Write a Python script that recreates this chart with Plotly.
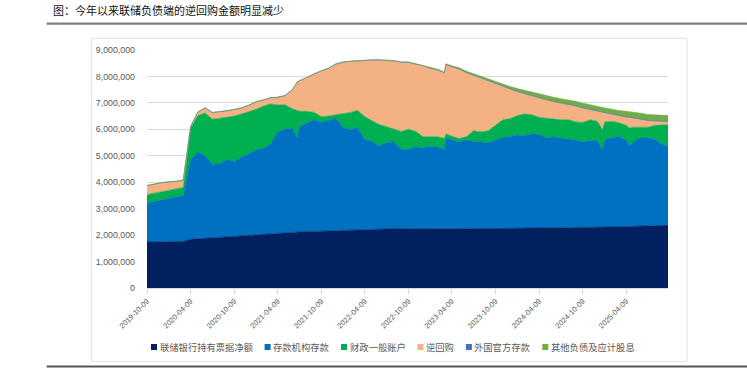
import plotly.graph_objects as go

# ---------------- data (百万美元) ----------------
dates = [
    "2019-10-09", "2019-11-09", "2019-12-09",
    "2020-01-09", "2020-02-09", "2020-03-09", "2020-04-09", "2020-05-09", "2020-06-09",
    "2020-07-09", "2020-08-09", "2020-09-09", "2020-10-09", "2020-11-09", "2020-12-09",
    "2021-01-09", "2021-02-09", "2021-03-09", "2021-04-09", "2021-05-09", "2021-06-09", "2021-06-30",
    "2021-07-09", "2021-08-09", "2021-09-09", "2021-10-09", "2021-11-09", "2021-12-09",
    "2022-01-09", "2022-02-09", "2022-03-09", "2022-04-09", "2022-05-09", "2022-06-09",
    "2022-07-09", "2022-08-09", "2022-09-09", "2022-10-09", "2022-11-09", "2022-12-09",
    "2023-01-09", "2023-02-09", "2023-03-09", "2023-03-15", "2023-04-09", "2023-05-09", "2023-06-09",
    "2023-07-09", "2023-08-09", "2023-09-09", "2023-10-09", "2023-11-09", "2023-12-09",
    "2024-01-09", "2024-02-09", "2024-03-09", "2024-04-09", "2024-05-09", "2024-06-09",
    "2024-07-09", "2024-08-09", "2024-09-09", "2024-10-09", "2024-11-09", "2024-12-09", "2024-12-31",
    "2025-01-09", "2025-02-09", "2025-03-09", "2025-04-09", "2025-04-23", "2025-05-09",
    "2025-06-09", "2025-07-09", "2025-08-09", "2025-09-09", "2025-10-01",
]

notes_net = [
    1740000, 1740000, 1750000,
    1750000, 1760000, 1760000, 1840000, 1860000, 1880000, 1900000, 1920000, 1940000, 1950000, 1970000, 1990000,
    2010000, 2030000, 2050000, 2070000, 2100000, 2120000, 2130000, 2130000, 2140000, 2140000, 2150000, 2160000, 2180000,
    2190000, 2200000, 2210000, 2220000, 2220000, 2220000, 2230000, 2230000, 2230000, 2240000, 2240000, 2240000,
    2230000, 2240000, 2240000, 2240000, 2250000, 2250000, 2250000, 2250000, 2250000, 2250000, 2250000, 2250000, 2260000,
    2260000, 2260000, 2260000, 2270000, 2270000, 2280000, 2280000, 2280000, 2290000, 2290000, 2300000, 2300000, 2300000,
    2300000, 2310000, 2320000, 2330000, 2330000, 2330000, 2350000, 2360000, 2360000, 2370000, 2370000,
]

reserves = [
    1470000, 1530000, 1580000,
    1630000, 1690000, 1740000, 3010000, 3290000, 3120000, 2780000, 2780000, 2910000, 2830000, 2980000, 3090000,
    3210000, 3250000, 3400000, 3830000, 3900000, 3930000, 3540000, 3970000, 4080000, 4220000, 4110000, 4180000, 4240000,
    3870000, 3780000, 3870000, 3400000, 3320000, 3160000, 3270000, 3290000, 3020000, 3010000, 3090000, 3060000,
    3120000, 3090000, 3010000, 3430000, 3350000, 3270000, 3350000, 3290000, 3270000, 3230000, 3350000, 3450000, 3470000,
    3530000, 3500000, 3570000, 3530000, 3410000, 3430000, 3380000, 3350000, 3310000, 3230000, 3280000, 3260000, 2930000,
    3320000, 3370000, 3410000, 3270000, 3050000, 3220000, 3320000, 3310000, 3260000, 3050000, 2980000,
]

tga = [
    320000, 310000, 300000,
    300000, 300000, 300000, 1200000, 1370000, 1620000, 1700000, 1720000, 1610000, 1720000, 1630000, 1580000,
    1540000, 1600000, 1510000, 1020000, 930000, 730000, 1030000, 580000, 460000, 280000, 220000, 160000, 130000,
    540000, 660000, 640000, 860000, 780000, 800000, 600000, 500000, 670000, 750000, 590000, 420000,
    380000, 390000, 400000, 160000, 140000, 130000, 120000, 410000, 380000, 470000, 550000, 660000, 670000,
    730000, 820000, 720000, 650000, 740000, 670000, 700000, 730000, 680000, 740000, 780000, 740000, 750000,
    660000, 620000, 520000, 550000, 670000, 530000, 410000, 410000, 530000, 750000, 820000,
]

reverse_repo = [
    330000, 340000, 340000,
    320000, 270000, 270000, 40000, 120000, 180000, 240000, 230000, 230000, 240000, 220000, 240000,
    270000, 220000, 220000, 280000, 330000, 700000, 1080000, 1140000, 1280000, 1440000, 1720000, 1800000, 1910000,
    1930000, 1920000, 1860000, 2120000, 2290000, 2430000, 2500000, 2560000, 2610000, 2530000, 2540000, 2680000,
    2570000, 2520000, 2480000, 2620000, 2620000, 2630000, 2420000, 2090000, 2030000, 1870000, 1570000, 1250000, 1120000,
    900000, 760000, 720000, 750000, 680000, 660000, 630000, 580000, 600000, 540000, 380000, 380000, 650000,
    330000, 250000, 250000, 310000, 400000, 340000, 300000, 250000, 160000, 130000, 120000,
]

foreign_official = [
    12000, 12000, 12000,
    12000, 12000, 12000, 12000, 12000, 12000, 12000, 12000, 12000, 12000, 12000, 12000,
    12000, 12000, 12000, 12000, 12000, 12000, 12000, 12000, 12000, 12000, 12000, 12000, 12000,
    12000, 12000, 12000, 12000, 12000, 12000, 12000, 12000, 12000, 6000, 6000, 6000,
    6000, 6000, 6000, 6000, 6000, 6000, 6000, 6000, 6000, 6000, 6000, 6000, 6000,
    6000, 6000, 6000, 6000, 6000, 6000, 6000, 6000, 6000, 6000, 6000, 6000, 6000,
    6000, 6000, 6000, 6000, 6000, 6000, 6000, 6000, 6000, 6000, 6000,
]

other_liab = [
    8000, 8000, 8000,
    8000, 8000, 8000, 8000, 8000, 8000, 8000, 8000, 8000, 8000, 8000, 8000,
    8000, 8000, 8000, 8000, 8000, 8000, 8000, 8000, 8000, 8000, 8000, 8000, 8000,
    8000, 8000, 8000, 8000, 8000, 8000, 8000, 8000, 8000, 14000, 14000, 14000,
    24000, 24000, 24000, 24000, 34000, 44000, 54000, 54000, 64000, 74000, 74000, 84000, 94000,
    114000, 124000, 134000, 144000, 154000, 164000, 164000, 174000, 174000, 184000, 194000, 194000, 194000,
    194000, 194000, 204000, 214000, 214000, 214000, 224000, 224000, 224000, 224000, 224000,
]

series_names = ["联储银行持有票据净额", "存款机构存款", "财政一般账户", "逆回购", "外国官方存款", "其他负债及应计股息"]
series_values = [notes_net, reserves, tga, reverse_repo, foreign_official, other_liab]
series_colors = ["#002060", "#0070C0", "#00B050", "#F4B183", "#4472C4", "#70AD47"]

x_tick_labels = ["2019-10-09", "2020-04-09", "2020-10-09", "2021-04-09", "2021-10-09", "2022-04-09",
                 "2022-10-09", "2023-04-09", "2023-10-09", "2024-04-09", "2024-10-09", "2025-04-09"]

title_text = "图：今年以来联储负债端的逆回购金额明显减少"

# ---------------- layout geometry (pixels) ----------------
W, H = 747, 372
PL, PR, PT, PB = 147, 79, 50, 84
plot_w = W - PL - PR
plot_h = H - PT - PB


def px(xp):
    return (xp - PL) / plot_w


def py(yp):
    return (H - PB - yp) / plot_h


fig = go.Figure()
for name, vals, col in zip(series_names, series_values, series_colors):
    fig.add_trace(go.Scatter(
        x=dates, y=vals, name=name, stackgroup="one", mode="lines",
        line=dict(width=0.6, color=col), fillcolor=col,
        showlegend=False, hoverinfo="skip",
    ))

shapes = [
    # title underline
    dict(type="line", xref="paper", yref="paper", x0=px(46.7), x1=px(747), y0=py(23.7), y1=py(23.7),
         line=dict(color="#7F7F7F", width=2.3)),
    # bottom rule
    dict(type="line", xref="paper", yref="paper", x0=px(46.7), x1=px(747), y0=py(366.5), y1=py(366.5),
         line=dict(color="#555555", width=2.2)),
    # chart frame
    dict(type="rect", xref="paper", yref="paper", x0=px(91.7), x1=px(687), y0=py(361.7), y1=py(38.3),
         line=dict(color="#D9D9D9", width=0.8), layer="below"),
]

annotations = []
lx = 151.0
for name, col in zip(series_names, series_colors):
    shapes.append(dict(type="rect", xref="paper", yref="paper",
                       x0=px(lx), x1=px(lx + 6), y0=py(350), y1=py(344),
                       fillcolor=col, line=dict(width=0)))
    annotations.append(dict(text=name, xref="paper", yref="paper", x=px(lx + 7.5), y=py(347.2),
                            xanchor="left", yanchor="middle", showarrow=False, borderpad=0,
                            font=dict(family="Noto Sans CJK SC", size=9.3, color="#595959")))
    lx += 20.6 + 9.3 * len(name)

fig.update_layout(
    width=W, height=H,
    margin=dict(l=PL, r=PR, t=PT, b=PB),
    paper_bgcolor="white", plot_bgcolor="white",
    title=dict(text=title_text, x=53 / W, xref="container", xanchor="left",
               y=1 - 11.5 / H, yref="container", yanchor="middle",
               font=dict(family="Noto Sans CJK SC", size=11, color="#111111")),
    shapes=shapes,
    annotations=annotations,
    showlegend=False,
)

fig.update_xaxes(
    type="date", range=["2019-10-09", "2025-10-01"],
    tickvals=x_tick_labels, ticktext=x_tick_labels, tickangle=-45,
    tickfont=dict(family="Liberation Sans", size=7.5, color="#595959"),
    showgrid=False, showline=True, linecolor="#D9D9D9", linewidth=1,
    ticks="outside", ticklen=5, tickcolor="#D9D9D9", zeroline=False,
)
fig.update_yaxes(
    range=[0, 9000000], dtick=1000000, tickformat=",",
    tickfont=dict(family="Liberation Sans", size=8.8, color="#595959"),
    showgrid=True, gridcolor="#D9D9D9", gridwidth=1, zeroline=False,
    showline=False, ticks="", ticklabelstandoff=11,
)

fig.write_html(
    "out.html",
    config={"displayModeBar": False},
    post_script="document.body.style.margin='0';document.body.style.overflow='hidden';",
)
